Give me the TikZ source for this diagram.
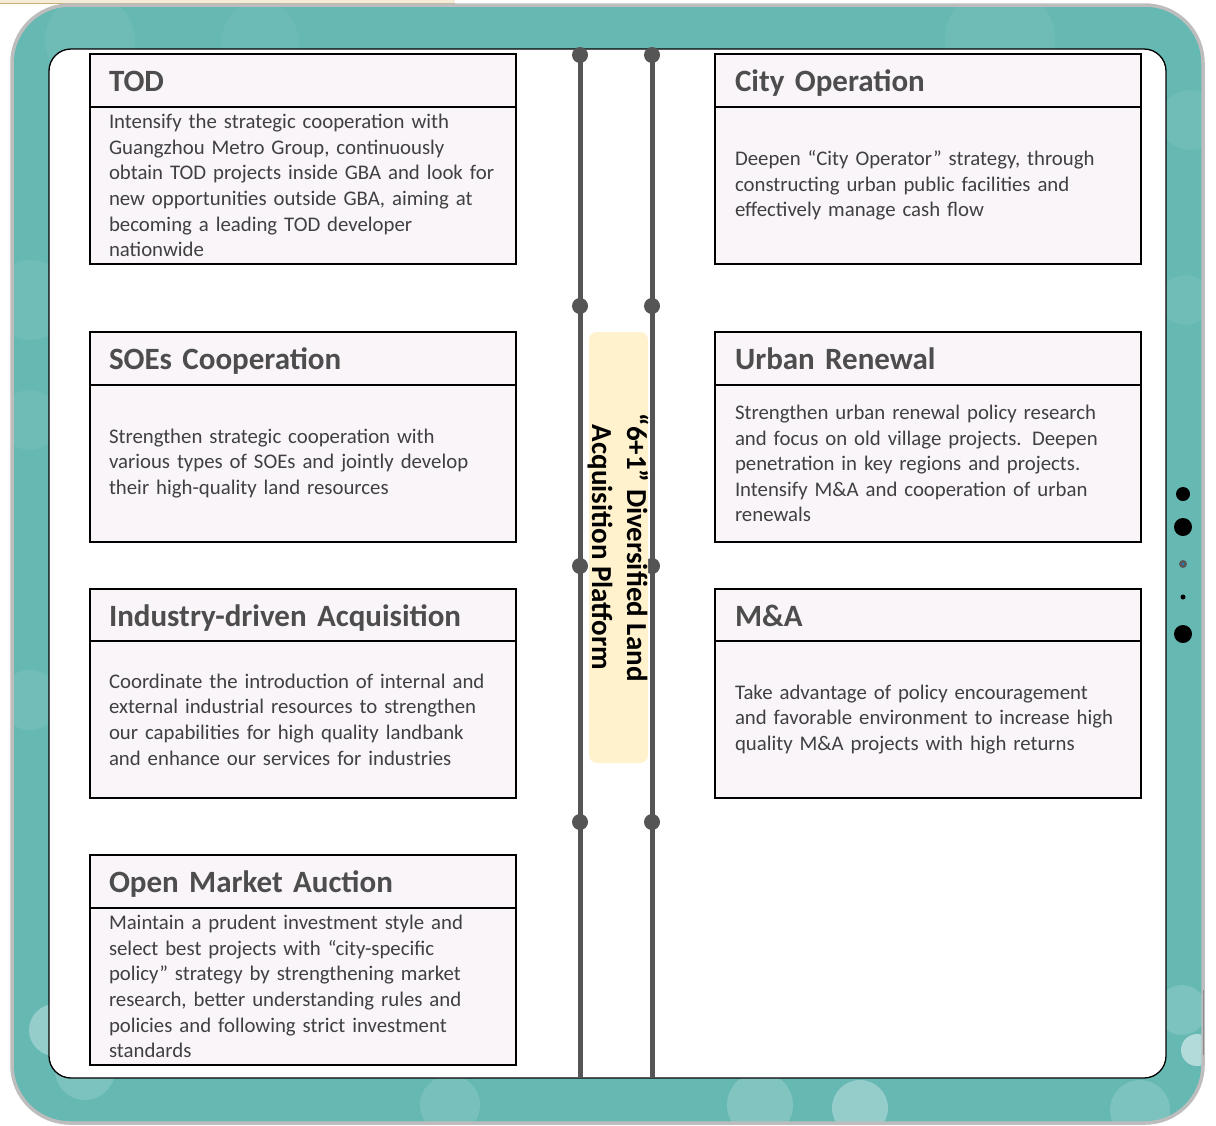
\documentclass[tikz,border=0pt]{standalone}
\usepackage{fontspec}
\setmainfont{Carlito}
\definecolor{teal1}{HTML}{66B8B3}
\definecolor{frameedge}{HTML}{BDBDBD}
\definecolor{boxfill}{HTML}{F9F5F9}
\definecolor{railgray}{HTML}{555555}
\definecolor{bodytext}{HTML}{404040}
\definecolor{headtext}{HTML}{4D4D4D}
\definecolor{platfill}{HTML}{FFF2CC}
\definecolor{cream}{HTML}{F4ECD6}
\definecolor{gold}{HTML}{C9B27A}
\begin{document}
\begin{tikzpicture}[x=1pt,y=-1pt,
  hdrbox/.style={draw=black, line width=2.5pt, fill=boxfill, anchor=north west, outer sep=0pt,
    minimum height=53pt, text width=388pt, inner xsep=19pt, inner ysep=0pt, align=left,
    text height=25pt, text depth=4pt,
    text=headtext, font=\fontsize{31}{36}\selectfont\bfseries},
  bodybox/.style={draw=black, line width=2.5pt, fill=boxfill, anchor=north west, outer sep=0pt,
    minimum height=157pt, text width=388pt, inner xsep=19pt, inner ysep=0pt, align=left,
    text=bodytext, font=\fontsize{20.8}{25.6}\selectfont},
  rbox/.style={inner xsep=20pt, text width=386pt},
  rail/.style={draw=railgray, line width=5pt},
  knot/.style={circle, fill=railgray, inner sep=0pt, minimum size=16pt},
  bokeh/.style={fill=white, opacity=#1},
  sidedot/.style={circle, fill=black, inner sep=0pt}
]
\useasboundingbox (0,0) rectangle (1216,1125);

% strip above the frame
\fill[cream] (0,0) rectangle (455,3);
\draw[gold, line width=0.8pt] (0,3) -- (455,3);

% outer device frame
\begin{scope}
  \clip[rounded corners=58pt] (12,5) rectangle (1203,1123);
  \fill[teal1] (0,0) rectangle (1216,1125);
  % soft light spots on the frame
  \fill[bokeh=0.06] (90,40) circle (45);
  \fill[bokeh=0.05] (260,40) circle (38);
  \fill[bokeh=0.06] (1000,40) circle (55);
  \fill[bokeh=0.07] (30,300) circle (40);
  \fill[bokeh=0.06] (30,420) circle (30);
  \fill[bokeh=0.08] (30,700) circle (30);
  \fill[bokeh=0.30] (55,1030) circle (26);
  \fill[bokeh=0.15] (85,1070) circle (30);
  \fill[bokeh=0.12] (450,1105) circle (30);
  \fill[bokeh=0.18] (760,1105) circle (33);
  \fill[bokeh=0.30] (860,1108) circle (28);
  \fill[bokeh=0.15] (1140,1110) circle (30);
  \fill[bokeh=0.15] (1182,1010) circle (25);
  \fill[bokeh=0.50] (1197,1050) circle (16);
  \fill[bokeh=0.07] (1185,300) circle (25);
  \fill[bokeh=0.07] (1190,120) circle (30);
\end{scope}
\draw[frameedge, line width=3.5pt, rounded corners=58pt] (12,5) rectangle (1203,1123);
\draw[black!45, line width=0.6pt] (1203,990) -- (1203,1055);

% inner white panel
\draw[black, line width=1.3pt, fill=white, rounded corners=22pt] (49,49) rectangle (1166,1078);

% side dots
\node[sidedot, minimum size=14pt] (sd1) at (1183,494) {};
\node[sidedot, minimum size=18pt] (sd2) at (1183,527) {};
\node[circle, fill=black!65, inner sep=0pt, minimum size=8pt] (sd3) at (1183,564) {};
\node[circle, fill=cyan!70!blue, inner sep=0pt, minimum size=2.5pt] at (sd3) {};
\node[sidedot, minimum size=5pt] (sd4) at (1183,597) {};
\node[sidedot, minimum size=18pt] (sd5) at (1183,634) {};

% central rails
\coordinate (lt) at (580,55);  \coordinate (lb) at (580,1078);
\coordinate (rt) at (652,55);  \coordinate (rb) at (652,1078);
\draw[rail] (lt) -- (lb);
\draw[rail] (rt) -- (rb);
\foreach \yy/\k in {55/a,306/b,566/c,822/d}{
  \node[knot] (lk\k) at (580,\yy) {};
  \node[knot] (rk\k) at (652,\yy) {};
}

% platform label
\node[fill=platfill, rounded corners=8pt, minimum width=59pt, minimum height=431pt, inner sep=0pt] (platbox) at (618.5,547.5) {};
\node[rotate=-90, align=center, font=\fontsize{29}{35}\selectfont\bfseries, text=black] (plat) at (618,547.5)
  {“6+1” Diversified Land\\Acquisition Platform};

% left column
\node[hdrbox] (todh) at (90,54) {TOD};
\node[bodybox] (todb) at (90,107) {Intensify the strategic cooperation with\\Guangzhou Metro Group, continuously\\obtain TOD projects inside GBA and look for\\new opportunities outside GBA, aiming at\\becoming a leading TOD developer\\nationwide};

\node[hdrbox] (soeh) at (90,332) {SOEs Cooperation};
\node[bodybox] (soeb) at (90,385) {Strengthen strategic cooperation with\\various types of SOEs and jointly develop\\their high-quality land resources};

\node[hdrbox] (indh) at (90,589) {Industry-driven Acquisition};
\node[bodybox] (indb) at (90,641) {Coordinate the introduction of internal and\\external industrial resources to strengthen\\our capabilities for high quality landbank\\and enhance our services for industries};

\node[hdrbox] (omah) at (90,855) {Open Market Auction};
\node[bodybox] (omab) at (90,908) {Maintain a prudent investment style and\\select best projects with “city-specific\\policy” strategy by strengthening market\\research, better understanding rules and\\policies and following strict investment\\standards};

% right column
\node[hdrbox, rbox] (cith) at (715,54) {City Operation};
\node[bodybox, rbox] (citb) at (715,107) {Deepen “City Operator” strategy, through\\constructing urban public facilities and\\effectively manage cash flow};

\node[hdrbox, rbox] (urbh) at (715,332) {Urban Renewal};
\node[bodybox, rbox] (urbb) at (715,385) {Strengthen urban renewal policy research\\and focus on old village projects. Deepen\\penetration in key regions and projects.\\Intensify M\&A and cooperation of urban\\renewals};

\node[hdrbox, rbox] (mah) at (715,589) {M\&A};
\node[bodybox, rbox] (mab) at (715,641) {Take advantage of policy encouragement\\and favorable environment to increase high\\quality M\&A projects with high returns};
\end{tikzpicture}
\end{document}
